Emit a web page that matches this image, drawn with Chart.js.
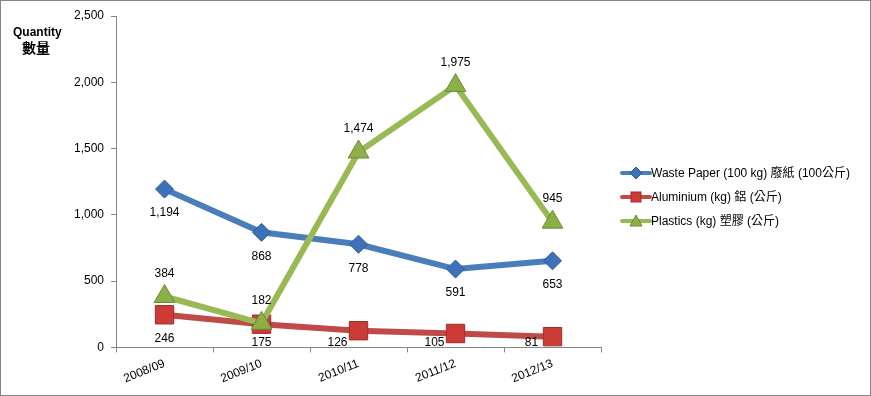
<!DOCTYPE html>
<html>
<head>
<meta charset="utf-8">
<script src="https://cdn.jsdelivr.net/npm/chart.js@4"></script>
<style>
  html, body { margin: 0; padding: 0; background: #fff; }
  #wrap {
    position: relative; width: 871px; height: 396px;
    box-sizing: border-box; border: 1px solid #868686;
    font-family: 'Liberation Sans', 'Noto Sans CJK TC', sans-serif;
  }
  #chart { position: absolute; left: -1px; top: -1px; }
  .ytitle { position: absolute; font-weight: bold; color: #000; text-align: center; }
  #legend { position: absolute; left: 619px; top: 162px; font-size: 12px; }
  .item { position: relative; height: 24px; line-height: 20px; padding-left: 31px; white-space: nowrap; }
  .item .ln { position: absolute; left: 0; top: 8px; width: 32px; height: 4px; border-radius: 2px; }
  .item svg { position: absolute; left: 9px; top: 3px; }
</style>
</head>
<body>
<div id="wrap">
  <canvas id="chart" width="871" height="396"></canvas>
  <div class="ytitle" style="left:12px;top:24px;font-size:12px;">Quantity</div>
  <div class="ytitle" style="left:21px;top:36px;font-size:14px;font-family:'Noto Sans CJK TC';">數量</div>
  <div id="legend"></div>
</div>
<script>
'use strict';

const CATEGORIES = ['2008/09', '2009/10', '2010/11', '2011/12', '2012/13'];
const WASTE_PAPER = [1194, 868, 778, 591, 653];
const ALUMINIUM   = [246, 175, 126, 105, 81];
const PLASTICS    = [384, 182, 1474, 1975, 945];
const SERIES_NAMES = [
  'Waste Paper (100 kg) 廢紙 (100公斤)',
  'Aluminium (kg) 鋁 (公斤)',
  'Plastics (kg) 塑膠 (公斤)',
];
const Y_TICKS = [0, 500, 1000, 1500, 2000, 2500];

const FONT = "'Liberation Sans', sans-serif";

// label placement per series: 'below' or 'above'
const LABEL_POS = ['below', 'below', 'above'];

const dataLabels = {
  id: 'dataLabels',
  afterDatasetsDraw(chart) {
    const { ctx, chartArea } = chart;
    ctx.save();
    ctx.font = '12px ' + FONT;
    ctx.fillStyle = '#000';
    ctx.textAlign = 'center';
    ctx.textBaseline = 'middle';
    chart.data.datasets.forEach((ds, i) => {
      const meta = chart.getDatasetMeta(i);
      meta.data.forEach((pt, j) => {
        let x = pt.x;
        let y = LABEL_POS[i] === 'above' ? pt.y - 23 : pt.y + 24;
        if (y > chartArea.bottom - 5) {
          y = chartArea.bottom - 5;
          if (j > 1) x -= 21;
        }
        ctx.fillText(ds.data[j].toLocaleString('en-US'), x, y);
      });
    });
    ctx.restore();
  },
};

const STYLES = [
  { line: '#4a7ebb', fill: '#3d72b8', border: '#2c5a96', style: 'rectRot', r: 9 },
  { line: '#be4b48', fill: '#cc3b36', border: '#9e2e2b', style: 'rect', r: 13 },
  { line: '#98b954', fill: '#8bb046', border: '#6a8a33', style: 'triangle', r: 12 },
];

const datasets = [WASTE_PAPER, ALUMINIUM, PLASTICS].map((d, i) => ({
  label: SERIES_NAMES[i],
  data: d,
  borderColor: STYLES[i].line,
  borderWidth: 6,
  tension: 0,
  pointStyle: STYLES[i].style,
  pointRadius: STYLES[i].r,
  pointBackgroundColor: STYLES[i].fill,
  pointBorderColor: STYLES[i].border,
  pointBorderWidth: 1,
  order: 3 - i,
}));

new Chart(document.getElementById('chart'), {
  type: 'line',
  data: { labels: CATEGORIES, datasets },
  options: {
    responsive: false,
    animation: false,
    layout: { padding: { left: 67, right: 270, top: 16, bottom: 6 } },
    plugins: { legend: { display: false }, tooltip: { enabled: false } },
    scales: {
      x: {
        offset: true,
        grid: { offset: true, drawOnChartArea: false, drawTicks: true, tickLength: 5, color: '#868686' },
        border: { color: '#868686' },
        ticks: { color: '#000', font: { family: FONT, size: 12 }, minRotation: 22, maxRotation: 22, padding: 4 },
      },
      y: {
        min: 0,
        max: 2500,
        afterBuildTicks: axis => { axis.ticks = Y_TICKS.map(v => ({ value: v })); },
        grid: { drawOnChartArea: false, drawTicks: true, tickLength: 5, color: '#868686' },
        border: { color: '#868686' },
        ticks: {
          color: '#000', font: { family: FONT, size: 12 }, padding: 7,
          callback: v => v.toLocaleString('en-US'),
        },
      },
    },
  },
  plugins: [dataLabels],
});

// HTML legend with line + marker swatches
const markerSvg = s => {
  if (s.style === 'rectRot') return '<polygon points="7,1 13,7 7,13 1,7"/>';
  if (s.style === 'rect') return '<rect x="2" y="2" width="10" height="10"/>';
  return '<polygon points="7,1 13,12 1,12"/>';
};
document.getElementById('legend').innerHTML = SERIES_NAMES.map((n, i) => {
  const s = STYLES[i];
  return '<div class="item"><span class="ln" style="background:' + s.line + '"></span>' +
    '<svg width="14" height="14" fill="' + s.fill + '" stroke="' + s.border + '">' + markerSvg(s) + '</svg>' + n + '</div>';
}).join('');
</script>
</body>
</html>
